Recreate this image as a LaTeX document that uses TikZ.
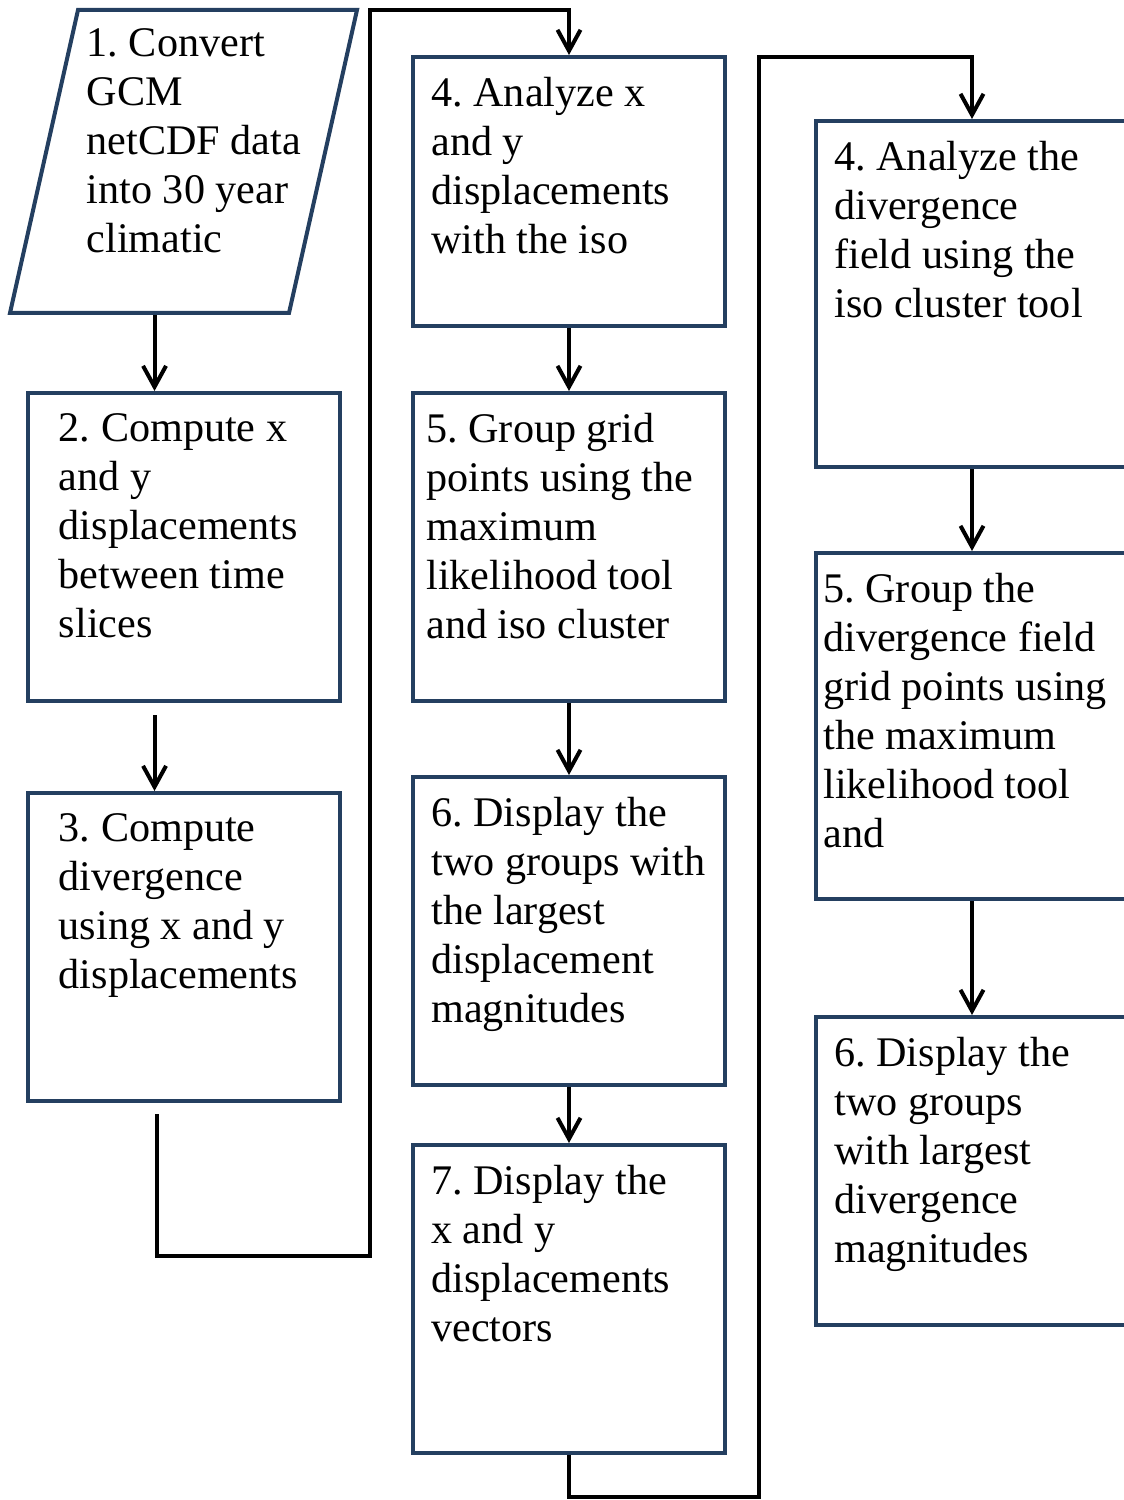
\documentclass[tikz,border=0pt]{standalone}
\usepackage{fontspec}
\setmainfont{Liberation Serif}
\usetikzlibrary{shapes.geometric, arrows.meta, positioning}
\definecolor{boxblue}{RGB}{36,63,96}
\tikzstyle{io} = [trapezium, trapezium left angle=77.35, trapezium right angle=102.65, text width=4.22cm, text height=6.06cm, text depth=0pt, inner sep=0pt, draw=boxblue, line width=0.08cm]
\tikzstyle{process} = [rectangle, minimum width=6.24cm, minimum height=6.16cm, inner sep=0pt, draw=boxblue, line width=0.08cm]
\tikzstyle{boxtext} = [inner sep=0pt, align=left, font=\fontsize{24}{27.9}\selectfont\frenchspacing]
\tikzstyle{arrow} = [->, >={Straight Barb[length=0.42cm,width=0.46cm]}, line width=0.08cm]

\begin{document}
\begin{tikzpicture}
        \useasboundingbox (0,0) rectangle (22.46,-30);
        % first column
        \node[io] at (3.67,-3.23) (b1){};
        \node[process,below=1.52cm of b1] (b2){};
        \node[process,below=1.76cm of b2] (b3){};
        % second column
        \node[process,minimum height=5.38cm] at (11.38,-3.83) (b4a){};
        \node[process,below=1.26cm of b4a] (b5a){};
        \node[process,below=1.44cm of b5a] (b6a){};
        \node[process,below=1.12cm of b6a] (b7a){};
        % third column
        \node[process,minimum height=6.92cm] at (19.44,-5.88) (b4b){};
        \node[process,minimum height=6.92cm,below=1.64cm of b4b] (b5b){};
        \node[process,below=2.28cm of b5b] (b6b){};

        \node[boxtext,below right=0.4cm and 0.2cm of b1.top left corner] (t1){1. Convert\\GCM\\netCDF data\\into 30 year\\climatic};
        \node[boxtext,below right=0.44cm and 0.66cm of b2.north west] (t2){2. Compute x\\and y\\displacements\\between time\\slices};
        \node[boxtext,below right=0.44cm and 0.66cm of b3.north west] (t3){3. Compute\\divergence\\using x and y\\displacements};
        \node[boxtext,below right=0.44cm and 0.4cm of b4a.north west] (t4a){4. Analyze x\\and y\\displacements\\with the iso};
        \node[boxtext,below right=0.44cm and 0.3cm of b5a.north west] (t5a){5. Group grid\\points using the\\maximum\\likelihood tool\\and iso cluster};
        \node[boxtext,below right=0.44cm and 0.4cm of b6a.north west] (t6a){6. Display the\\two groups with\\the largest\\displacement\\magnitudes};
        \node[boxtext,below right=0.44cm and 0.4cm of b7a.north west] (t7a){7. Display the\\x and y\\displacements\\vectors};
        \node[boxtext,below right=0.44cm and 0.4cm of b4b.north west] (t4b){4. Analyze the\\divergence\\field using the\\iso cluster tool};
        \node[boxtext,below right=0.44cm and 0.18cm of b5b.north west] (t5b){5. Group the\\divergence field\\grid points using\\the maximum\\likelihood tool\\and};
        \node[boxtext,below right=0.44cm and 0.4cm of b6b.north west] (t6b){6. Display the\\two groups\\with largest\\divergence\\magnitudes};

        \coordinate (c1) at (7.4,-25.12);
        \coordinate (c2) at (7.4,-0.2);
        \coordinate (c3) at (15.18,-29.94);
        \coordinate (c4) at (15.18,-1.14);

        \draw [arrow] ([xshift=-0.58cm]b2.north |- b1.south) -- ([xshift=-0.58cm]b2.north);
        \draw [arrow] ([xshift=-0.58cm,yshift=-0.24cm]b2.south) -- ([xshift=-0.58cm]b3.north);
        \draw [arrow] ([xshift=-0.54cm,yshift=-0.22cm]b3.south) |- (c1) -- (c2) -| (b4a.north);
        \draw [arrow] (b4a) -- (b5a);
        \draw [arrow] (b5a) -- (b6a);
        \draw [arrow] (b6a) -- (b7a);
        \draw [arrow] (b7a.south) |- (c3) -- (c4) -| (b4b.north);
        \draw [arrow] (b4b) -- (b5b);
        \draw [arrow] (b5b) -- (b6b);
\end{tikzpicture}
\end{document}
